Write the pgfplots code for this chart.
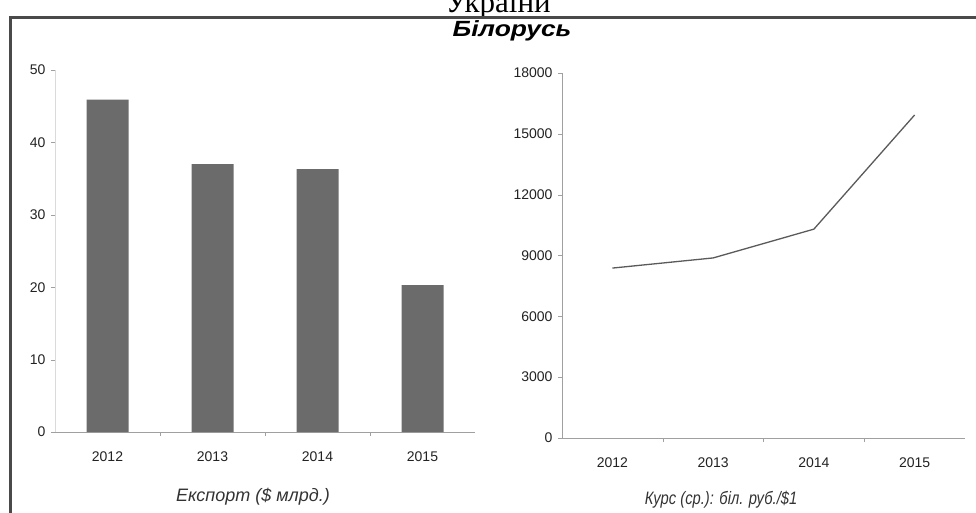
\documentclass[border=0pt]{standalone}
\usepackage{fontspec}
\setmainfont{Liberation Sans}
\newfontfamily\captionserif{Liberation Serif}
\newfontfamily\titlefont[FakeStretch=1.2]{Liberation Sans}
\newfontfamily\narrowfont[FakeStretch=0.82]{Liberation Sans}
\usepackage{pgfplots}
\pgfplotsset{compat=1.18}

\definecolor{bargray}{HTML}{6B6B6B}
\definecolor{linegray}{HTML}{5A5A5A}
\definecolor{framegray}{HTML}{4A4A4A}
\definecolor{axisgray}{HTML}{A0A0A0}
\definecolor{faintgray}{HTML}{DADADA}
\definecolor{textdark}{HTML}{222222}
\definecolor{labelgray}{HTML}{333333}

\pgfplotsset{
  panel/.style={
    scale only axis,
    anchor=south west,
    xmin=-0.5, xmax=3.5,
    xtick={0,1,2,3},
    xticklabels={2012,2013,2014,2015},
    minor xtick={0.5,1.5,2.5},
    tick align=outside,
    major tick length=4pt,
    minor tick length=4pt,
    every major x tick/.append style={draw=none},
    every minor x tick/.append style={draw=axisgray},
    every major y tick/.append style={draw=axisgray},
    axis x line*=bottom,
    axis y line*=left,
    tick label style={font=\fontsize{14}{14}\selectfont, text=textdark},
    /pgf/number format/assume math mode=true,
    scaled y ticks=false,
    yticklabel style={/pgf/number format/fixed, /pgf/number format/1000 sep={}, xshift=-2pt},
    xticklabel style={yshift=-12pt},
  }
}

\begin{document}
\begin{tikzpicture}[x=1pt,y=1pt]

% exports, bn USD
\begin{axis}[panel,
  at={(55pt,80pt)}, width=420pt, height=362pt,
  ymin=0, ymax=50, ytick={0,10,...,50},
  x axis line style={draw=axisgray, line width=1pt},
  y axis line style={draw=faintgray, line width=1pt},
]
\addplot[ybar, bar width=42pt, fill=bargray, draw=none] coordinates {(0,45.9) (1,37.0) (2,36.3) (3,20.3)};
\end{axis}

% average rate, BYR per USD
\begin{axis}[panel,
  at={(562pt,74pt)}, width=403pt, height=365pt,
  ymin=0, ymax=18000, ytick={0,3000,...,18000},
  x axis line style={draw=axisgray, line width=1pt},
  y axis line style={draw=axisgray, line width=1pt},
]
\addplot[line width=1.3pt, linegray] coordinates {(0,8380) (1,8880) (2,10300) (3,15930)};
\end{axis}

\node[font=\itshape\fontsize{18}{18}\selectfont, text=labelgray] at (253,15) {Експорт (\$ млрд.)};
\node[font=\narrowfont\itshape\fontsize{18}{18}\selectfont, text=labelgray] at (721,12) {Курс (ср.): біл. руб./\$1};

% caption line cut by the frame above
\begin{scope}
  \clip (0,0) rectangle (976,512);
  \node[font=\captionserif\fontsize{31}{31}\selectfont, anchor=base, inner sep=0pt] at (498,499.5) {України};
\end{scope}

% frame
\draw[line width=3pt, framegray] (10,-10) -- (10,494.5) -- (990,494.5);

% title
\node[font=\titlefont\bfseries\itshape\fontsize{22}{22}\selectfont, text=black] at (512,481) {Білорусь};

\pgfresetboundingbox
\useasboundingbox (0,0) rectangle (976,512);
\end{tikzpicture}
\end{document}
